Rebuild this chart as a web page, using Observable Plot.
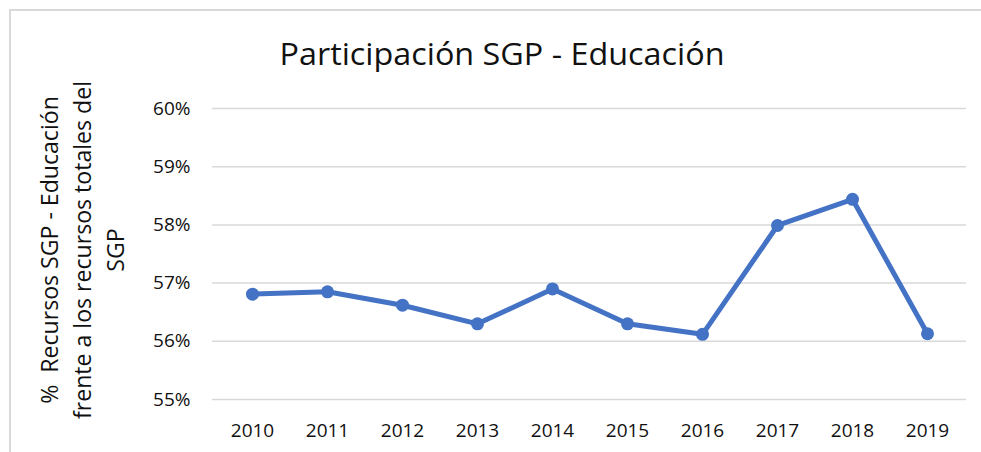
<!DOCTYPE html>
<html><head><meta charset="utf-8">
<script src="https://cdn.jsdelivr.net/npm/d3@7"></script>
<script src="https://cdn.jsdelivr.net/npm/@observablehq/plot@0.6"></script>
<style>
html,body{margin:0;padding:0;background:#fff;}
#wrap{position:relative;width:981px;height:452px;overflow:hidden;background:#fff;font-family:"Open Sans",sans-serif;color:#000;}
#frame{position:absolute;left:9px;top:9px;width:990px;height:460px;border-top:2px solid #d9d9d9;border-left:2px solid #d9d9d9;box-sizing:border-box;}
#title{position:absolute;left:502px;top:38px;font-size:31px;line-height:31px;white-space:nowrap;font-weight:400;color:#111;}
#ylab{position:absolute;left:82px;top:250px;font-size:23px;line-height:33px;white-space:pre;text-align:center;color:#111;}
#chart{position:absolute;left:0;top:80px;}
</style>
</head><body>
<div id="wrap">
  <div id="frame"></div>
  <div id="title"></div>
  <div id="ylab"></div>
  <div id="chart"></div>
</div>
<script>
const titleText = "Participación SGP - Educación";
const yLabelLines = ["%  Recursos SGP - Educación", "frente a los recursos totales del", "SGP"];
const years = ["2010","2011","2012","2013","2014","2015","2016","2017","2018","2019"];
const shares = [56.81, 56.85, 56.62, 56.30, 56.90, 56.30, 56.12, 57.99, 58.44, 56.13];
const yTicks = [55, 56, 57, 58, 59, 60];

const data = years.map((year, i) => ({year, share: shares[i]}));

function textWidth(text, font) {
  const c = document.createElement("canvas").getContext("2d");
  c.font = font;
  return c.measureText(text).width;
}

// Title, compressed horizontally to the reference's narrow face
const t = document.getElementById("title");
t.textContent = titleText;
const tw = textWidth(titleText, "400 31px 'Open Sans'");
t.style.transformOrigin = "0 0";
t.style.transform = `translateX(${-445/2}px) scaleX(${445 / tw})`;

// Y axis title (three lines, rotated)
const yl = document.getElementById("ylab");
yLabelLines.forEach(s => { const d = document.createElement("div"); d.textContent = s; yl.appendChild(d); });
const lw = textWidth(yLabelLines[1], "23px 'Open Sans'");
yl.style.transform = `translate(-50%,-50%) rotate(-90deg) scaleX(${338 / lw})`;

const chart = Plot.plot({
  width: 981,
  height: 372,
  marginTop: 28,
  marginBottom: 53,
  marginLeft: 212,
  marginRight: 15,
  style: {fontFamily: "'Open Sans', sans-serif", fontSize: "19px", color: "#111", background: "transparent", overflow: "visible"},
  x: {type: "point", domain: years, padding: 0.5, label: null},
  y: {domain: [55, 60], label: null},
  marks: [
    Plot.ruleY(yTicks, {stroke: "#d9d9d9", strokeWidth: 1.5}),
    Plot.axisX({tickSize: 0, tickPadding: 24, label: null}),
    Plot.axisY(yTicks, {tickSize: 0, tickPadding: 22, tickFormat: d => d + "%", label: null}),
    Plot.line(data, {x: "year", y: "share", stroke: "#4472C4", strokeWidth: 5, strokeLinejoin: "round"}),
    Plot.dot(data, {x: "year", y: "share", r: 6.5, fill: "#4472C4"})
  ]
});
document.getElementById("chart").appendChild(chart);
</script>
</body></html>
